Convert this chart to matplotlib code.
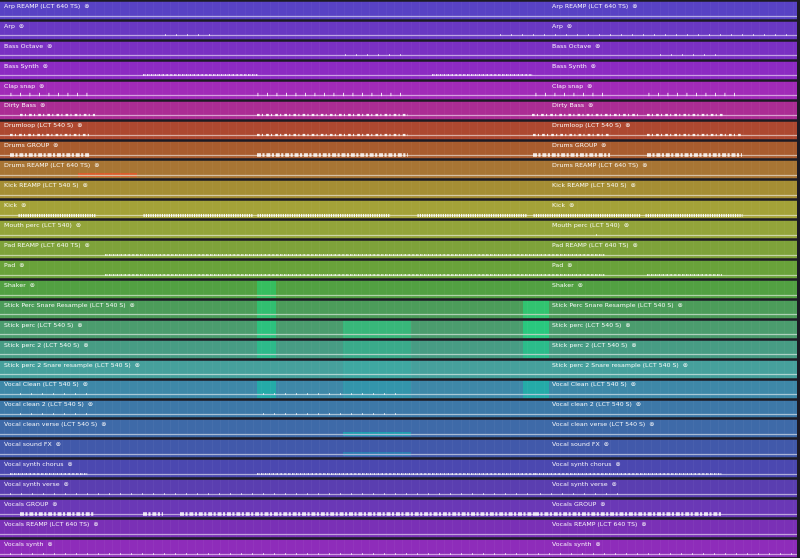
import numpy as np
import matplotlib.pyplot as plt
from matplotlib.colors import to_rgb

# track list (top to bottom)
tracks = ["Arp REAMP (LCT 640 TS)", "Arp", "Bass Octave", "Bass Synth", "Clap snap",
          "Dirty Bass", "Drumloop (LCT 540 S)", "Drums GROUP", "Drums REAMP (LCT 640 TS)",
          "Kick REAMP (LCT 540 S)", "Kick", "Mouth perc (LCT 540)", "Pad REAMP (LCT 640 TS)",
          "Pad", "Shaker", "Stick Perc Snare Resample (LCT 540 S)", "Stick perc (LCT 540 S)",
          "Stick perc 2 (LCT 540 S)", "Stick perc 2 Snare resample (LCT 540 S)",
          "Vocal Clean (LCT 540 S)", "Vocal clean 2 (LCT 540 S)", "Vocal clean verse (LCT 540 S)",
          "Vocal sound FX", "Vocal synth chorus", "Vocal synth verse", "Vocals GROUP",
          "Vocals REAMP (LCT 640 TS)", "Vocals synth"]

colors = ["#5842c4", "#6938c2", "#7a30c2", "#8c2ac2", "#a12ab8",
          "#ab2c94", "#ad4830", "#a95c2e", "#a87534", "#a58e34",
          "#a4a238", "#93a43a", "#7ea23a", "#69a23a", "#52a042",
          "#4c9c5a", "#4b9c6e", "#479c84", "#46a09c",
          "#3e88a8", "#3d78a8", "#3e6aa8", "#4159aa", "#4b48b0",
          "#5a3eb0", "#6a38b6", "#7a30b6", "#8e2cba"]

# region starts (timeline position) - labels repeat at each region
region_starts = [0, 548]

# waveform activity per track: (start, end, kind)
waves = [
    [],
    [(165, 210, "dots"), (500, 795, "dots")],
    [(345, 410, "dots"), (660, 720, "dots")],
    [(143, 258, "noise"), (432, 533, "noise")],
    [(10, 90, "ticks"), (257, 408, "ticks"), (535, 608, "ticks"), (648, 742, "ticks")],
    [(20, 95, "dash2"), (257, 408, "dash2"), (532, 638, "dash2"), (647, 723, "dash2")],
    [(10, 90, "dash2"), (257, 408, "dash2"), (533, 610, "dash2"), (647, 742, "dash2")],
    [(10, 90, "blob"), (257, 408, "blob"), (533, 610, "blob"), (647, 742, "blob")],
    [],
    [],
    [(18, 95, "dash"), (143, 253, "dash"), (257, 390, "dash"), (417, 527, "dash"),
     (533, 640, "dash"), (645, 742, "dash")],
    [(596, 600, "dots")],
    [(105, 605, "noise")],
    [(105, 605, "noise"), (647, 722, "noise")],
    [], [], [], [], [],
    [(20, 90, "dots"), (263, 405, "dots")],
    [(20, 90, "dots"), (263, 405, "dots")],
    [], [],
    [(10, 88, "noise"), (257, 535, "noise"), (535, 722, "noise")],
    [(10, 535, "dots"), (540, 622, "dots")],
    [(20, 95, "blob"), (143, 163, "blob"), (180, 535, "blob"), (535, 722, "blob")],
    [],
    [(10, 795, "dots")],
]

# selected / highlighted areas: track index, start, end, colour, alpha, full row?
hl_track = [8, 14, 15, 16, 17, 19, 16, 17, 18, 19, 21, 22, 15, 16, 17, 19]
hl_start = [78, 257, 257, 257, 257, 257, 343, 343, 343, 343, 343, 343, 523, 523, 523, 523]
hl_end = [137, 276, 276, 276, 276, 276, 411, 411, 411, 411, 411, 411, 549, 549, 549, 549]
hl_color = ["#e8582a", "#1fd878", "#1fd880", "#18dc8a", "#14d890", "#10c8a8",
            "#22d88a", "#1ccf98", "#2cc0b0", "#1cb4b4", "#14b4b4", "#1aa0b8",
            "#1fe080", "#18e088", "#14d890", "#10c8a8"]
hl_alpha = [0.8, 0.55, 0.6, 0.6, 0.5, 0.55, 0.45, 0.3, 0.25, 0.3, 0.7, 0.5, 0.6, 0.65, 0.55, 0.55]
hl_full = [False, True, True, True, True, True, True, True, True, True, False, False,
           True, True, True, True]

W, H = 800, 558
n = len(tracks)
rh = H / n

fig = plt.figure(figsize=(8, 5.58), dpi=100)
ax = fig.add_axes([0, 0, 1, 1])
ax.set_xlim(0, W)
ax.set_ylim(H, 0)
ax.axis("off")
fig.patch.set_facecolor("#1a1822")

def lighter(c, f):
    r, g, b = to_rgb(c)
    return (r + (1 - r) * f, g + (1 - g) * f, b + (1 - b) * f)

right_edge = 797
for i, name in enumerate(tracks):
    top = i * rh
    base = top + 15.5
    ax.fill_between([0, right_edge], top, top + rh, color=colors[i], lw=0, zorder=1)
    # baseline of the region
    ax.plot([0, right_edge], [base, base], color=lighter(colors[i], 0.55), lw=0.9, zorder=3)
    for x0 in region_starts:
        ax.text(x0 + 4, top + 6.3, name + "  \u229a", color="white", fontsize=4.5,
                va="center", ha="left", zorder=6, family="DejaVu Sans")
    for (s, e, kind) in waves[i]:
        if kind == "dash":
            ax.plot([s, e], [base, base], color="white", lw=2.2, zorder=4,
                    dashes=(0.4, 0.35), solid_capstyle="butt", alpha=0.95)
        elif kind == "dash2":
            ax.plot([s, e], [base, base], color="white", lw=1.6, zorder=4,
                    dashes=(1.2, 1.0, 0.5, 1.4), alpha=0.9)
        elif kind == "blob":
            ax.plot([s, e], [base, base], color="white", lw=2.6, zorder=4,
                    dashes=(1.1, 0.4, 0.6, 0.5), alpha=0.85)
        elif kind == "ticks":
            ax.plot([s, e], [base - 1.2, base - 1.2], color="white", lw=2.4, zorder=4,
                    dashes=(0.25, 2.6))
        elif kind == "noise":
            ax.plot([s, e], [base, base], color="white", lw=1.4, zorder=4,
                    dashes=(0.8, 0.4, 0.3, 0.5), alpha=0.8)
        elif kind == "dots":
            ax.plot([s, e], [base, base], color="white", lw=1.2, zorder=4,
                    dashes=(0.6, 6), alpha=0.75)

# highlighted selection patches
for t, s, e, c, a, full in zip(hl_track, hl_start, hl_end, hl_color, hl_alpha, hl_full):
    top = t * rh
    if full:
        y0, y1 = top + 1, top + rh - 1
    else:
        y0, y1 = top + 13.5, top + 17.5
    ax.fill_between([s, e], y0, y1, color=c, alpha=a, lw=0, zorder=2)

# faint vertical beat grid
for gx in np.arange(4, right_edge, 8.3):
    ax.plot([gx, gx], [0, H], color="white", lw=0.4, alpha=0.07, zorder=2.5)

# dark separators between tracks
for i in range(n + 1):
    y = i * rh
    ax.plot([0, W], [y, y], color="#1c1a24", lw=1.8, zorder=5)
ax.fill_between([right_edge, W], 0, H, color="#1c1a24", lw=0, zorder=5)

fig.savefig("out.png", dpi=100)
